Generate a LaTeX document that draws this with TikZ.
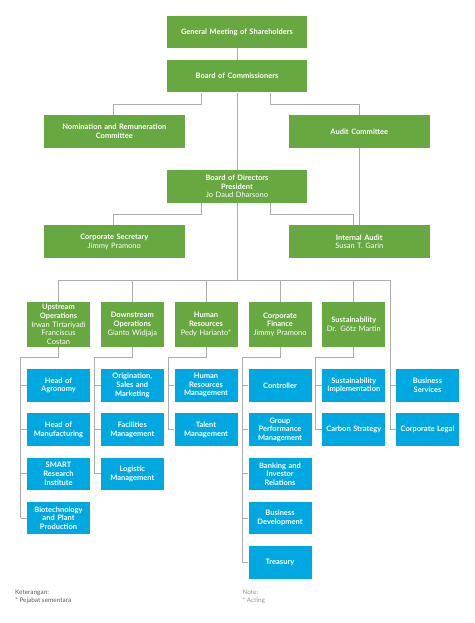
\documentclass[tikz,border=0pt]{standalone}
\usepackage{fontspec}
\setmainfont{Lato}
\usetikzlibrary{calc}
\definecolor{orggreen}{RGB}{104,168,64}
\definecolor{orgblue}{RGB}{0,168,225}
\definecolor{orgline}{RGB}{172,172,172}
\definecolor{notedark}{RGB}{90,90,90}
\definecolor{notelight}{RGB}{150,150,150}
\tikzset{
  box/.style={rectangle, inner sep=1pt, align=center, text=white,
    font=\fontsize{7.5}{8.6}\selectfont\bfseries},
  widebox/.style={box, fill=orggreen, minimum width=140.5pt, minimum height=32.6pt, text width=136pt},
  greenbox/.style={box, fill=orggreen, minimum width=62.3pt, minimum height=44.4pt, text width=61pt},
  bluebox/.style={box, fill=orgblue, minimum width=62.3pt, minimum height=32.7pt, text width=61pt},
  conn/.style={draw=orgline, line width=1pt},
  notetext/.style={anchor=north west, inner sep=0pt, align=left, font=\fontsize{6.4}{7.8}\selectfont}
}
\newcommand{\nm}[1]{{\normalfont\fontsize{7.5}{8.6}\selectfont #1}}
\begin{document}
\begin{tikzpicture}[x=1pt,y=-1pt]
\useasboundingbox (0,0) rectangle (474,623);
% top level
\node[widebox] (gms) at (237,32) {General Meeting of Shareholders};
\node[widebox] (boc) at (237,76.2) {Board of Commissioners};
\node[widebox] (nom) at (114.3,131.3) {Nomination and Remuneration\\Committee};
\node[widebox] (aud) at (359.3,131.3) {Audit Committee};
\node[widebox] (bod) at (237,186.5) {Board of Directors\\President\\\nm{Jo Daud Dharsono}};
\node[widebox] (sec) at (114.3,241.7) {Corporate Secretary\\\nm{Jimmy Pramono}};
\node[widebox] (ia) at (359.3,241.7) {Internal Audit\\\nm{Susan T. Garin}};
% directorates
\node[greenbox] (up) at (58.5,324.5) {Upstream\\Operations\\\nm{Irwan Tirtariyadi}\\\nm{Franciscus}\\\nm{Costan}};
\node[greenbox] (down) at (132.3,324.5) {Downstream\\Operations\\\nm{Gianto Widjaja}};
\node[greenbox] (hr) at (206,324.5) {Human\\Resources\\\nm{Pedy Harianto*}};
\node[greenbox] (cf) at (280,324.5) {Corporate\\Finance\\\nm{Jimmy Pramono}};
\node[greenbox] (sus) at (353.8,324.5) {Sustainability\\\nm{Dr. Götz Martin}};
% units
\node[bluebox] (agr) at (58.5,385.35) {Head of\\Agronomy};
\node[bluebox] (man) at (58.5,429.6) {Head of\\Manufacturing};
\node[bluebox] (sma) at (58.5,473.85) {SMART\\Research\\Institute};
\node[bluebox] (bio) at (58.5,518.1) {Biotechnology\\and Plant\\Production};
\node[bluebox] (ori) at (132.3,385.35) {Origination,\\Sales and\\Marketing};
\node[bluebox] (fac) at (132.3,429.6) {Facilities\\Management};
\node[bluebox] (log) at (132.3,473.85) {Logistic\\Management};
\node[bluebox] (hrm) at (206,385.35) {Human\\Resources\\Management};
\node[bluebox] (tal) at (206,429.6) {Talent\\Management};
\node[bluebox] (con) at (280,385.35) {Controller};
\node[bluebox] (gpm) at (280,429.6) {Group\\Performance\\Management};
\node[bluebox] (bank) at (280,473.85) {Banking and\\Investor\\Relations};
\node[bluebox] (biz) at (280,518.1) {Business\\Development};
\node[bluebox] (tre) at (280,562.35) {Treasury};
\node[bluebox] (sim) at (353.8,385.35) {Sustainability\\Implementation};
\node[bluebox] (car) at (353.8,429.6) {Carbon Strategy};
\node[bluebox] (bs) at (427.5,385.35) {Business\\Services};
\node[bluebox] (cl) at (427.5,429.6) {Corporate Legal};
% helper coordinates
\coordinate (bar) at (0,280.3);
\coordinate (barR) at (390.3,280.3);
% connectors top
\draw[conn] (gms.south) -- (boc.north);
\draw[conn] (boc.south) -- (bod.north);
\draw[conn] ([xshift=-35.3pt]boc.south) -- ++(0,11.4) -| ([xshift=-0.6pt]nom.north);
\draw[conn] ([xshift=33.3pt]boc.south) -- ++(0,11.4) -| (aud.north);
\draw[conn] (aud.south) -- (aud.south |- ia.north);
\draw[conn] ([xshift=-35.3pt]bod.south) -- ++(0,11) -| ([xshift=-0.6pt]sec.north);
\draw[conn] ([xshift=33.3pt]bod.south) -- ++(0,11) -| ([xshift=-6pt]ia.north);
\draw[conn] (bod.south) -- (bod.south |- bar);
\draw[conn] (up.north) |- (barR);
\foreach \n in {down,hr,cf,sus} \draw[conn] (\n.north) -- (\n.north |- bar);
% sixth column
\draw[conn] (barR) |- (cl.west);
\draw[conn] (bs.west) -- (bs.west -| barR);
% sub-trees
\foreach \g/\last/\kids in {up/bio/{agr,man,sma,bio}, down/log/{ori,fac,log}, hr/tal/{hrm,tal}, cf/tre/{con,gpm,bank,biz,tre}, sus/car/{sim,car}}{
  \draw[conn] (\g.south) -- ++(0,10.6) -| ([xshift=-6.3pt]\last.west);
  \foreach \k in \kids {
    \draw[conn] (\k.west) -- ++(-6.3,0);
  }
}
% notes
\node[notetext, text=notedark] (ket) at (15,590) {Keterangan:\\* Pejabat sementara};
\node[notetext, text=notelight] (note) at (242.3,590) {Note:\\* Acting};
\end{tikzpicture}
\end{document}
